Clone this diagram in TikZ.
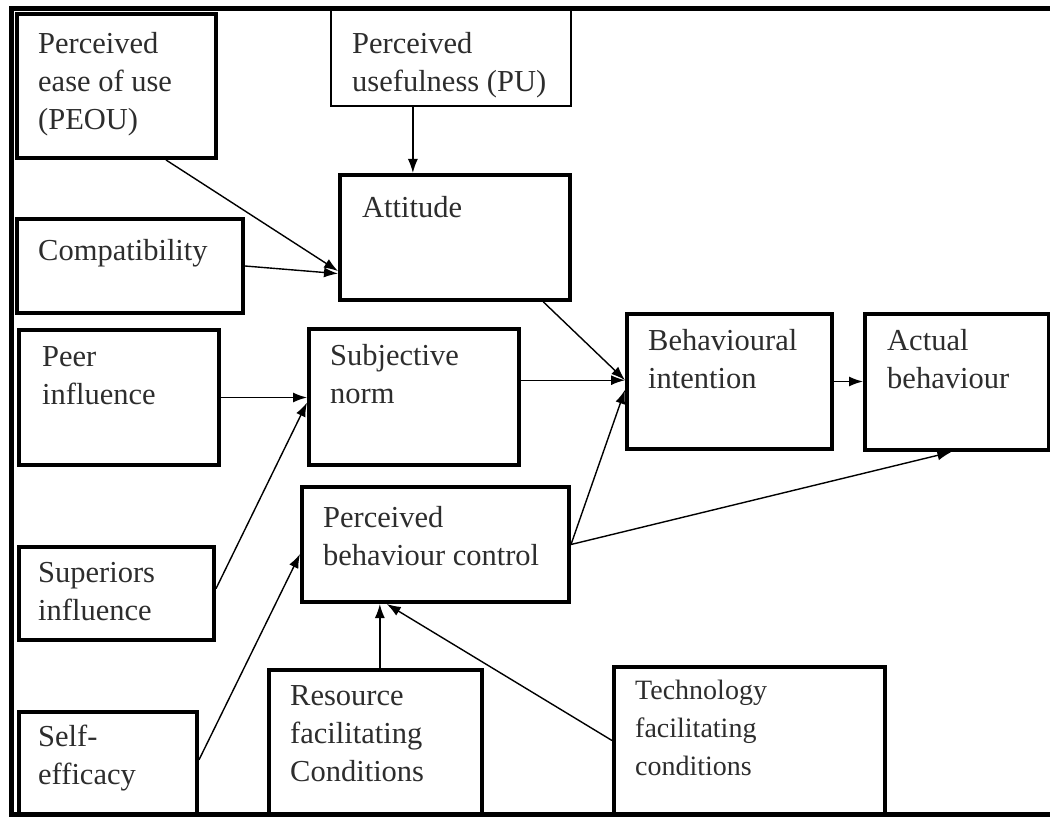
\documentclass[tikz,border=0pt]{standalone}
\usepackage{fontspec}
\setmainfont{Liberation Serif}
\usetikzlibrary{arrows.meta,calc}
\definecolor{ink}{RGB}{45,45,45}
\begin{document}
\begin{tikzpicture}[x=1pt,y=-1pt,
  frameline/.style={line width=5pt,line cap=rect},
  box/.style={draw,line width=4pt,rectangle,inner sep=0pt,anchor=north west},
  thinbox/.style={draw,line width=1.6pt,rectangle,inner sep=0pt,anchor=north west},
  lbl/.style={anchor=north west,inner sep=0pt,align=left,text=ink,
    font=\fontsize{30.5}{38}\selectfont,execute at begin node=\strut},
  smalllbl/.style={lbl,font=\fontsize{28}{38}\selectfont},
  arr/.style={line width=1.4pt,-{Latex[length=14pt,width=10pt]}}
]
\useasboundingbox (0,0) rectangle (1050,818);

% outer frame (open on the right)
\draw[frameline] (1050,9) -| (11,814) -- (1050,814);

% boxes
\node[box,minimum width=199pt,minimum height=144pt] (peou) at (15,12) {};
\node[thinbox,minimum width=240pt,minimum height=96pt] (pu) at (330,9) {};
\node[box,minimum width=230pt,minimum height=125pt] (att) at (338,173) {};
\node[box,minimum width=226pt,minimum height=94pt] (comp) at (15,217) {};
\node[box,minimum width=200pt,minimum height=135pt] (peer) at (17,328) {};
\node[box,minimum width=210pt,minimum height=136pt] (sn) at (307,327) {};
\node[box,minimum width=195pt,minimum height=93pt] (sup) at (17,545) {};
\node[box,minimum width=178pt,minimum height=102pt] (self) at (17,710) {};
\node[box,minimum width=267pt,minimum height=115pt] (pbc) at (300,485) {};
\node[box,minimum width=205pt,minimum height=135pt] (bi) at (625,312) {};
\node[box,minimum width=184pt,minimum height=136pt] (ab) at (863,312) {};
\node[box,minimum width=213pt,minimum height=144pt] (res) at (267,668) {};
\node[box,minimum width=271pt,minimum height=147pt] (tech) at (612,665) {};

% labels
\node[lbl] (peou-t) at (38,32.5) {Perceived\\ease of use\\(PEOU)};
\node[lbl] (pu-t) at (352,32.5) {Perceived\\usefulness (PU)};
\node[lbl] (att-t) at (362,190.5) {Attitude};
\node[lbl] (comp-t) at (38,233.5) {Compatibility};
\node[lbl] (peer-t) at (42,346.5) {Peer\\influence};
\node[lbl] (sn-t) at (330,344.5) {Subjective\\norm};
\node[lbl] (bi-t) at (648,329.5) {Behavioural\\intention};
\node[lbl] (ab-t) at (887,329.5) {Actual\\behaviour};
\node[lbl] (sup-t) at (38,562.5) {Superiors\\influence};
\node[lbl] (self-t) at (38,724.5) {Self-\\efficacy};
\node[lbl] (pbc-t) at (323,506.5) {Perceived\\behaviour control};
\node[lbl] (res-t) at (290,685.5) {Resource\\facilitating\\Conditions};
\node[smalllbl] (tech-t) at (635,679.5) {Technology\\facilitating\\conditions};

% connectors
\coordinate (puA) at ($(pu.south west)!0.343!(pu.south east)$);
\draw[arr] (puA) -- (puA |- att.north);
\draw[arr] ($(peou.south west)!0.744!(peou.south east)$) -- ($(att.north west)!0.76!(att.south west)$);
\draw[arr] (comp.east) -- ($(att.north west)!0.78!(att.south west)$);
\draw[arr] ($(att.south west)!0.878!(att.south east)$) -- ($(bi.north west)!0.49!(bi.south west)$);
\coordinate (snA) at ($(sn.north east)!0.38!(sn.south east)$);
\draw[arr] (snA) -- (snA -| bi.west);
\draw[arr] (pbc.east) -- ($(bi.north west)!0.56!(bi.south west)$);
\draw[arr] (bi.east) -- (bi.east -| ab.west);
\draw[arr] (pbc.east) -- ($(ab.south west)!0.47!(ab.south east)$);
\draw[arr] (peer.east) -- (peer.east -| sn.west);
\draw[arr] ($(sup.north east)!0.45!(sup.south east)$) -- ($(sn.north west)!0.54!(sn.south west)$);
\draw[arr] ($(self.north east)!0.47!(self.south east)$) -- ($(pbc.north west)!0.58!(pbc.south west)$);
\coordinate (resA) at ($(res.north west)!0.52!(res.north east)$);
\draw[arr] (resA) -- (resA |- pbc.south);
\draw[arr] (tech.west) -- ($(pbc.south west)!0.32!(pbc.south east)$);
\end{tikzpicture}
\end{document}
